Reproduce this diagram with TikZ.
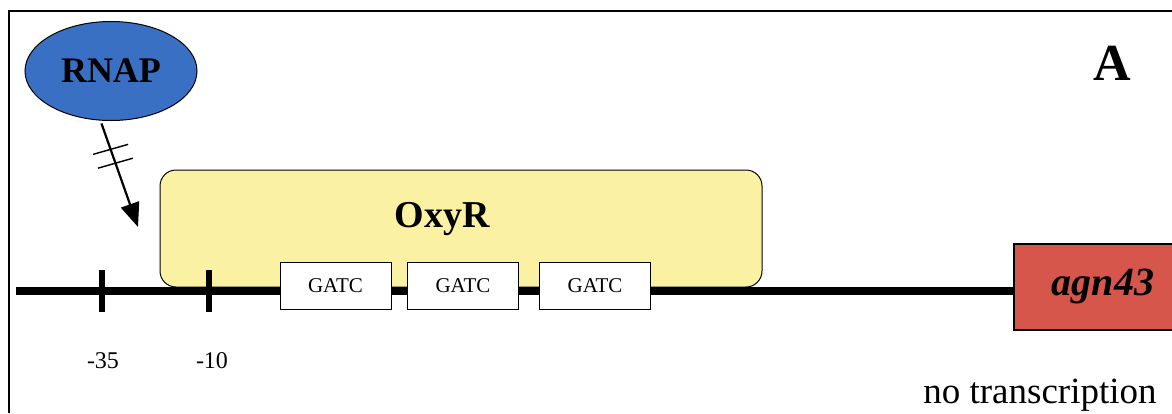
\documentclass[tikz,border=0pt]{standalone}
\usepackage{fontspec}
\setmainfont{Liberation Serif}
\usetikzlibrary{arrows.meta,shapes.geometric,calc}
\definecolor{rnapblue}{RGB}{58,112,196}
\definecolor{oxyyellow}{RGB}{250,241,162}
\definecolor{agnred}{RGB}{214,86,76}
\tikzset{
  fs/.style={font=\fontsize{#1}{#1}\selectfont},
  gatcbox/.style={draw=black, line width=1pt, fill=white, minimum width=111pt, minimum height=47pt, inner sep=0pt, fs=21},
  tick/.style={line width=6pt},
  poslabel/.style={anchor=base, fs=24, inner sep=0pt},
}
\begin{document}
\begin{tikzpicture}[x=1pt,y=-1pt]
\useasboundingbox (0,0) rectangle (1172,413);
% frame
\draw[line width=1.2pt] (9,413) -- (9,11) -- (1172,11);
% RNAP
\node[ellipse, draw=black, line width=1pt, fill=rnapblue, minimum width=172pt, minimum height=99pt, inner sep=0pt, font=\fontsize{36}{36}\selectfont\bfseries] (rnap) at (111,71) {RNAP};
% blocked arrow
\coordinate (tip) at (138,227);
\draw[line width=2.2pt, shorten <=3pt, -{Triangle[length=24pt,width=19pt]}] (rnap.258) -- (tip);
\path (rnap.258) -- (tip) coordinate[pos=0.27] (h1) coordinate[pos=0.4] (h2);
\draw[line width=1.4pt] ($(h1)+(-17.5,5)$) -- ($(h1)+(17.5,-5)$);
\draw[line width=1.4pt] ($(h2)+(-17.5,5)$) -- ($(h2)+(17.5,-5)$);
% OxyR
\node[draw=black, line width=1pt, fill=oxyyellow, rounded corners=16pt, minimum width=602pt, minimum height=117pt, inner sep=0pt] (oxyr) at (461,228.5) {};
\node[anchor=base, inner sep=0pt, font=\fontsize{38}{38}\selectfont\bfseries] (oxyrlabel) at (442,227) {OxyR};
% agn43 gene box
\node[draw=black, line width=1.2pt, fill=agnred, minimum width=178pt, minimum height=86pt, inner sep=0pt, font=\fontsize{40}{40}\selectfont\bfseries\itshape] (agn) at (1103,287) {agn43};
% DNA
\coordinate (dnastart) at (16,291);
\draw[line width=7.5pt] (dnastart) -- (dnastart -| agn.west);
\draw[tick] (102,270) -- (102,312);
\draw[tick] (209,270) -- (209,312);
% GATC boxes
\node[gatcbox] (g1) at (335.5,285.5) {GATC};
\node[gatcbox] (g2) at (463,285.5) {GATC};
\node[gatcbox] (g3) at (595,285.5) {GATC};
% labels
\node[poslabel] (m35) at (103,368) {-35};
\node[poslabel] (m10) at (212,368) {-10};
\node[anchor=base, inner sep=0pt, fs=37] (notx) at (1040,403) {no transcription};
\node[anchor=base, inner sep=0pt, font=\fontsize{52}{52}\selectfont\bfseries] (lblA) at (1112,80) {A};
\end{tikzpicture}
\end{document}
